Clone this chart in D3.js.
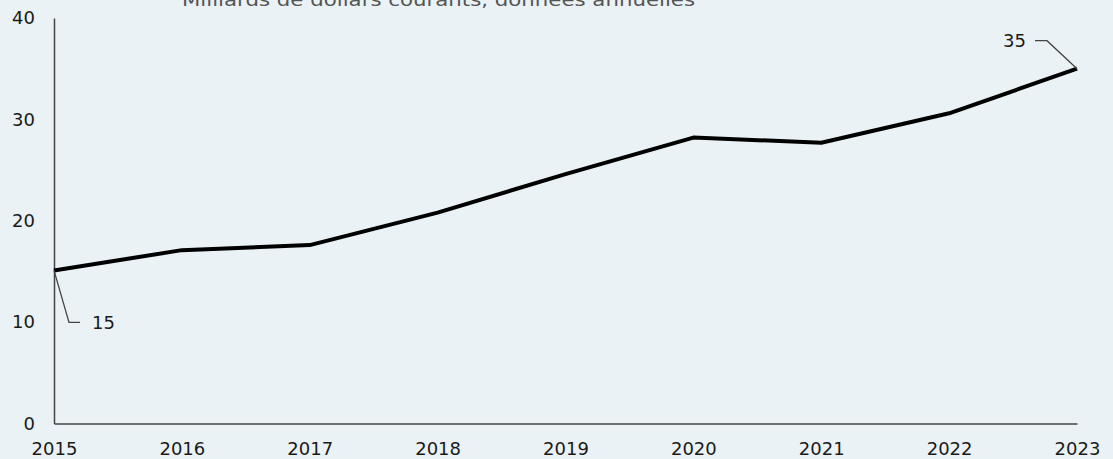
<!DOCTYPE html>
<html><head><meta charset="utf-8">
<script src="https://cdn.jsdelivr.net/npm/d3@7"></script>
<style>
html,body{margin:0;padding:0;background:#eaf2f5;}
svg{display:block;}
</style></head>
<body>
<script>
const years = [2015, 2016, 2017, 2018, 2019, 2020, 2021, 2022, 2023];
const values = [15.1, 17.1, 17.6, 20.8, 24.6, 28.2, 27.7, 30.6, 35.0];
const yTicks = [0, 10, 20, 30, 40];
const subtitle = "Milliards de dollars courants, données annuelles";
const annotations = [{year: 2015, label: "15"}, {year: 2023, label: "35"}];

const W = 1113, H = 459;
const svg = d3.select("body").append("svg").attr("width", W).attr("height", H);
svg.append("rect").attr("width", W).attr("height", H).attr("fill", "#eaf2f5");

const x = d3.scaleLinear().domain([2015, 2023]).range([54, 1077]);
const y = d3.scaleLinear().domain([0, 40]).range([423.5, 18]);
const font = "DejaVu Sans, sans-serif";

// subtitle (clipped at the top, as in the source)
svg.append("text").attr("x", 182).attr("y", 6)
  .attr("font-family", font).attr("font-size", 18).attr("fill", "#555")
  .attr("textLength", 513).attr("lengthAdjust", "spacingAndGlyphs")
  .text(subtitle);

// axes
const yAxis = svg.append("g").attr("transform", `translate(${x(2015)},0)`)
  .call(d3.axisLeft(y).tickValues(yTicks).tickSize(0).tickPadding(19).tickFormat(d3.format("d")));
yAxis.select(".domain").attr("stroke", "#444").attr("stroke-width", 1.5);
yAxis.selectAll("text").attr("font-family", font).attr("font-size", 18).attr("fill", "#1a1a1a");

const xAxis = svg.append("g").attr("transform", `translate(0,${y(0)})`)
  .call(d3.axisBottom(x).tickValues(years).tickSize(0).tickPadding(19).tickFormat(d3.format("d")));
xAxis.select(".domain").attr("stroke", "#444").attr("stroke-width", 1.5);
xAxis.selectAll("text").attr("font-family", font).attr("font-size", 18).attr("fill", "#1a1a1a");

// line
const data = years.map((yr, i) => ({yr, v: values[i]}));
svg.append("path").datum(data)
  .attr("fill", "none").attr("stroke", "#000").attr("stroke-width", 4)
  .attr("stroke-linejoin", "round")
  .attr("d", d3.line().x(d => x(d.yr)).y(d => y(d.v)));

// annotations
const first = data[0], last = data[data.length - 1];
const p0 = [x(first.yr), y(first.v)];
svg.append("path").attr("fill", "none").attr("stroke", "#444").attr("stroke-width", 1.3)
  .attr("d", d3.line()([p0, [p0[0] + 15, p0[1] + 52], [p0[0] + 26, p0[1] + 52]]));
svg.append("text").attr("x", p0[0] + 38).attr("y", p0[1] + 52).attr("dy", "0.35em")
  .attr("font-family", font).attr("font-size", 18).attr("fill", "#1a1a1a").text(annotations[0].label);

const p1 = [x(last.yr), y(last.v)];
svg.append("path").attr("fill", "none").attr("stroke", "#444").attr("stroke-width", 1.3)
  .attr("d", d3.line()([p1, [p1[0] - 30, p1[1] - 28], [p1[0] - 42, p1[1] - 28]]));
svg.append("text").attr("x", p1[0] - 51).attr("y", p1[1] - 28).attr("dy", "0.35em")
  .attr("text-anchor", "end")
  .attr("font-family", font).attr("font-size", 18).attr("fill", "#1a1a1a").text(annotations[1].label);
</script>
</body></html>
